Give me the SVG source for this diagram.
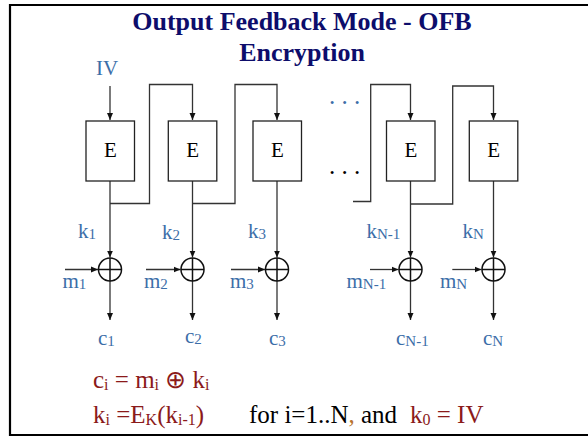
<svg xmlns="http://www.w3.org/2000/svg" width="588" height="437" viewBox="0 0 588 437">
<style>
text{font-family:"Liberation Serif","Times New Roman",serif}
.title{font-size:26px;font-weight:bold;fill:#0d0d6b;text-anchor:middle}
.box{fill:#fff;stroke:#222;stroke-width:1.3}
.e{font-size:21px;fill:#000;text-anchor:middle}
.lbl{font-size:21px;fill:#3c6ea8}
.sub{font-size:15px}
.line{fill:none;stroke:#333;stroke-width:1.3}
.xor{fill:none;stroke:#111;stroke-width:1.5}
.dots{font-size:25px}
.f{font-size:25px;fill:#8b1a1a}
.fs{font-size:16px}
.blk{fill:#000}
.frame{fill:none;stroke:#000;stroke-width:2.2}
</style>
<defs>
<marker id="ah" markerWidth="8" markerHeight="8" refX="7" refY="4" orient="auto" markerUnits="userSpaceOnUse">
<path d="M0,1 L7,4 L0,7 Z" fill="#111"/>
</marker>
</defs>
<rect width="588" height="437" fill="#fff"/>
<path class="frame" d="M590,5 H10 V435 H590"/>
<text class="title" x="302" y="30">Output Feedback Mode - OFB</text>
<text class="title" x="302" y="61">Encryption</text>

<g id="connectors">
<path class="line" marker-end="url(#ah)" d="M110,86 V120"/>
<path class="line" marker-end="url(#ah)" d="M110,203.5 H149.5 V84.5 H192.5 V120"/>
<path class="line" marker-end="url(#ah)" d="M192.5,203.5 H235 V84.5 H277 V120"/>
<path class="line" marker-end="url(#ah)" d="M353,201.5 H370.7 V84.5 H410.5 V120"/>
<path class="line" marker-end="url(#ah)" d="M410.5,204 H452.7 V86 H493.5 V120"/>
<path class="line" marker-end="url(#ah)" d="M110,181 V257.5"/>
<path class="line" marker-end="url(#ah)" d="M192.5,181 V257.5"/>
<path class="line" marker-end="url(#ah)" d="M277,181 V257.5"/>
<path class="line" marker-end="url(#ah)" d="M410.5,181 V257.5"/>
<path class="line" marker-end="url(#ah)" d="M493.5,181 V257.5"/>
<path class="line" marker-end="url(#ah)" d="M65,269.5 H98"/>
<path class="line" marker-end="url(#ah)" d="M146,269.5 H180.5"/>
<path class="line" marker-end="url(#ah)" d="M231,269.5 H265"/>
<path class="line" marker-end="url(#ah)" d="M370,269.5 H398.5"/>
<path class="line" marker-end="url(#ah)" d="M452.3,269.5 H481.5"/>
<path class="line" marker-end="url(#ah)" d="M110,281 V320"/>
<path class="line" marker-end="url(#ah)" d="M192.5,281 V320"/>
<path class="line" marker-end="url(#ah)" d="M277,281 V320"/>
<path class="line" marker-end="url(#ah)" d="M410.5,281 V320"/>
<path class="line" marker-end="url(#ah)" d="M493.5,281 V320"/>
</g>

<g id="E1"><rect class="box" x="86" y="121" width="48.5" height="60"/><text class="e" x="110.3" y="157">E</text></g>
<g id="E2"><rect class="box" x="168.3" y="121" width="48.5" height="60"/><text class="e" x="192.6" y="157">E</text></g>
<g id="E3"><rect class="box" x="253" y="121" width="48.5" height="60"/><text class="e" x="277.3" y="157">E</text></g>
<g id="E4"><rect class="box" x="386.5" y="121" width="48.5" height="60"/><text class="e" x="410.8" y="157">E</text></g>
<g id="E5"><rect class="box" x="469.3" y="121" width="48.5" height="60"/><text class="e" x="493.6" y="157">E</text></g>

<g id="X1"><circle class="xor" cx="110" cy="269.5" r="11.5"/><path class="xor" d="M98.5,269.5 H121.5 M110,258 V281"/></g>
<g id="X2"><circle class="xor" cx="192.5" cy="269.5" r="11.5"/><path class="xor" d="M181,269.5 H204 M192.5,258 V281"/></g>
<g id="X3"><circle class="xor" cx="277" cy="269.5" r="11.5"/><path class="xor" d="M265.5,269.5 H288.5 M277,258 V281"/></g>
<g id="X4"><circle class="xor" cx="410.5" cy="269.5" r="11.5"/><path class="xor" d="M399,269.5 H422 M410.5,258 V281"/></g>
<g id="X5"><circle class="xor" cx="493.5" cy="269.5" r="11.5"/><path class="xor" d="M482,269.5 H505 M493.5,258 V281"/></g>

<g id="labels">
<text class="lbl" x="96" y="75" style="font-size:21px">IV</text>
<text class="lbl dots" x="329" y="104">. . .</text>
<text class="dots" x="329" y="174">. . .</text>

<text class="lbl" x="78" y="238">k<tspan class="sub" dy="1">1</tspan></text>
<text class="lbl" x="162" y="239">k<tspan class="sub" dy="1">2</tspan></text>
<text class="lbl" x="248" y="238">k<tspan class="sub" dy="1">3</tspan></text>
<text class="lbl" x="366.5" y="238">k<tspan class="sub" dy="1">N-1</tspan></text>
<text class="lbl" x="462.5" y="238">k<tspan class="sub" dy="1">N</tspan></text>

<text class="lbl" x="62.5" y="288">m<tspan class="sub" dy="1">1</tspan></text>
<text class="lbl" x="144" y="288">m<tspan class="sub" dy="1">2</tspan></text>
<text class="lbl" x="230" y="288">m<tspan class="sub" dy="1">3</tspan></text>
<text class="lbl" x="346.5" y="288">m<tspan class="sub" dy="1">N-1</tspan></text>
<text class="lbl" x="440" y="288">m<tspan class="sub" dy="1">N</tspan></text>

<text class="lbl" x="98" y="345">c<tspan class="sub" dy="1">1</tspan></text>
<text class="lbl" x="185" y="343">c<tspan class="sub" dy="1">2</tspan></text>
<text class="lbl" x="269" y="345">c<tspan class="sub" dy="1">3</tspan></text>
<text class="lbl" x="396" y="345">c<tspan class="sub" dy="1">N-1</tspan></text>
<text class="lbl" x="483" y="345">c<tspan class="sub" dy="1">N</tspan></text>

<text class="f" x="93" y="388">c<tspan class="fs" dy="2">i</tspan><tspan dy="-2"> = m</tspan><tspan class="fs" dy="2">i</tspan><tspan dy="-2"> ⊕ k</tspan><tspan class="fs" dy="2">i</tspan></text>
<text class="f" x="93" y="423">k<tspan class="fs" dy="2">i</tspan><tspan dy="-2"> =E</tspan><tspan class="fs" dy="2">K</tspan><tspan dy="-2">(k</tspan><tspan class="fs" dy="2">i-1</tspan><tspan dy="-2">)</tspan></text>
<text class="f blk" x="249" y="423">for i=1..N<tspan style="fill:#b8742e">,</tspan> and</text>
<text class="f" x="410" y="423">k<tspan class="fs" dy="2">0</tspan><tspan dy="-2"> = IV</tspan></text>
</g>
</svg>
